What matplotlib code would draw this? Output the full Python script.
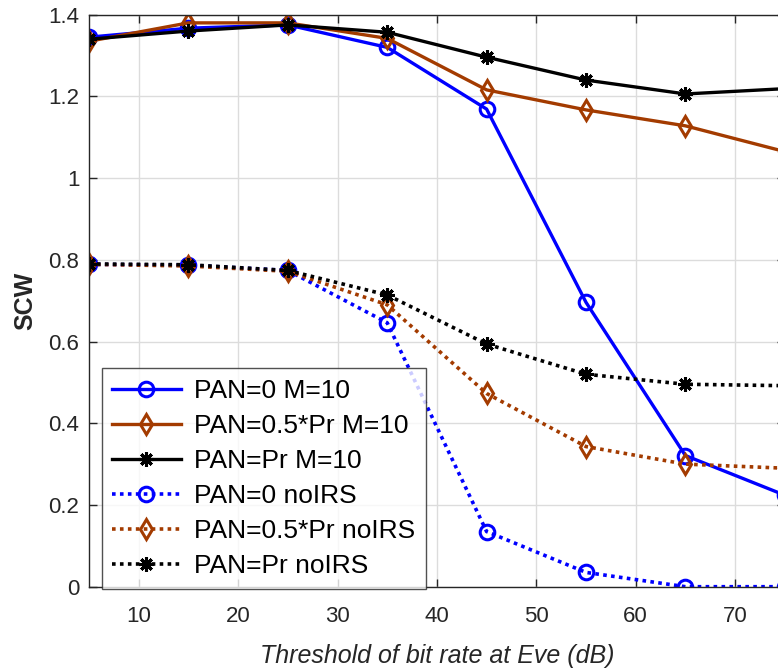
import matplotlib
matplotlib.use("Agg")
import matplotlib.pyplot as plt

x = [5, 15, 25, 35, 45, 55, 65, 75]

pan0_m10 = [1.345, 1.367, 1.375, 1.320, 1.169, 0.696, 0.321, 0.224]
pan05_m10 = [1.335, 1.380, 1.380, 1.342, 1.216, 1.167, 1.128, 1.065]
panpr_m10 = [1.340, 1.360, 1.375, 1.357, 1.296, 1.240, 1.206, 1.219]
pan0_noirs = [0.789, 0.787, 0.774, 0.646, 0.135, 0.035, 0.000, 0.000]
pan05_noirs = [0.789, 0.785, 0.772, 0.690, 0.473, 0.343, 0.300, 0.290]
panpr_noirs = [0.790, 0.788, 0.774, 0.714, 0.594, 0.520, 0.4955, 0.492]

labels = ["PAN=0 M=10", "PAN=0.5*Pr M=10", "PAN=Pr M=10",
          "PAN=0 noIRS", "PAN=0.5*Pr noIRS", "PAN=Pr noIRS"]

xticks = [10, 20, 30, 40, 50, 60, 70]
yticks = [0, 0.2, 0.4, 0.6, 0.8, 1.0, 1.2, 1.4]
yticklabels = ["0", "0.2", "0.4", "0.6", "0.8", "1", "1.2", "1.4"]

plt.rcParams['font.family'] = ['Liberation Sans Narrow', 'Liberation Sans', 'DejaVu Sans']

blue = '#0000FF'
brown = '#A33B00'
black = '#000000'

fig = plt.figure(figsize=(7.78, 6.69), dpi=100)
ax = fig.add_axes([89/778, 1 - 586.7/669, 695.8/778, 572/669])

solid = dict(linewidth=2.4, markersize=10.5, markeredgewidth=2.2, markerfacecolor='none')
dot = dict(linewidth=2.6, linestyle=(0, (1, 1.2)), markersize=10.5, markeredgewidth=2.2,
           markerfacecolor='none')
ast = (8, 2, 0)

ax.plot(x, pan0_m10, color=blue, marker='o', label=labels[0], **solid)
ax.plot(x, pan05_m10, color=brown, marker='d', label=labels[1], **solid)
ax.plot(x, panpr_m10, color=black, marker=ast, label=labels[2], **solid)
ax.plot(x, pan0_noirs, color=blue, marker='o', label=labels[3], **dot)
ax.plot(x, pan05_noirs, color=brown, marker='d', label=labels[4], **dot)
ax.plot(x, panpr_noirs, color=black, marker=ast, label=labels[5], **dot)

ax.set_xlim(5, 75)
ax.set_ylim(0, 1.4)
ax.set_xticks(xticks)
ax.set_yticks(yticks)
ax.set_yticklabels(yticklabels)
ax.grid(True, color='#DCDCDC', linewidth=1.0)
ax.set_axisbelow(True)
for s in ax.spines.values():
    s.set_color('#262626')
    s.set_linewidth(1.0)
ax.tick_params(direction='in', top=True, right=True, length=6, width=1.0,
               colors='#262626', labelsize=16)
ax.tick_params(axis='x', pad=14)
ax.tick_params(axis='y', pad=7)
for lab in ax.get_xticklabels() + ax.get_yticklabels():
    lab.set_color('#262626')

ax.set_xlabel("Threshold of bit rate at Eve (dB)", fontsize=18, style='italic',
              color='#262626', labelpad=12)
ax.set_ylabel("SCW", fontsize=18, fontweight='bold', color='#262626', labelpad=8)

leg = ax.legend(loc='lower left', bbox_to_anchor=(0.018, -0.004), fontsize=19,
                frameon=True, fancybox=False, handlelength=2.6, handletextpad=0.5,
                borderpad=0.4, labelspacing=0.42, borderaxespad=0)
leg.get_frame().set_edgecolor('#262626')
leg.get_frame().set_linewidth(1.0)

fig.savefig("out.png", dpi=100)
